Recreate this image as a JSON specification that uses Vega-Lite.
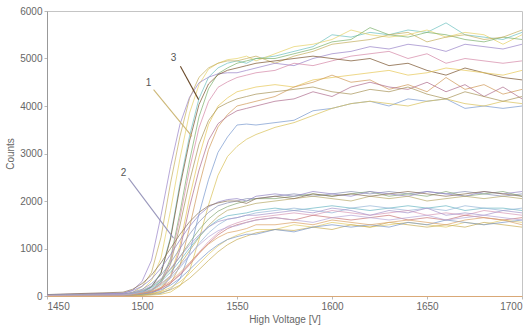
{
"$schema":"https://vega.github.io/schema/vega-lite/v6.json",
"width":475,"height":285,
"autosize":{"type":"none"},
"padding":{"left":47,"top":11,"right":9,"bottom":34},
"background":"white",
"config":{"font":"Liberation Sans","view":{"stroke":"#c4c4c4","strokeWidth":1},
"axis":{"labelFont":"Liberation Sans","titleFont":"Liberation Sans","labelFontSize":10,"labelColor":"#666","titleFontSize":10,"titleFontWeight":"normal","titleColor":"#666","grid":false,"tickColor":"#bbb","tickSize":3}},
"datasets":{
"curves":[
{"s":"U1","x":1450,"y":15},{"s":"U1","x":1490,"y":25},{"s":"U1","x":1495,"y":40},{"s":"U1","x":1500,"y":74},{"s":"U1","x":1505,"y":198},{"s":"U1","x":1510,"y":495},{"s":"U1","x":1515,"y":1238},{"s":"U1","x":1520,"y":2376},{"s":"U1","x":1525,"y":3366},{"s":"U1","x":1530,"y":4158},{"s":"U1","x":1535,"y":4604},{"s":"U1","x":1540,"y":4802},{"s":"U1","x":1545,"y":4901},{"s":"U1","x":1550,"y":4950},{"s":"U1","x":1555,"y":4900},{"s":"U1","x":1560,"y":5000},{"s":"U1","x":1570,"y":5050},{"s":"U1","x":1580,"y":5150},{"s":"U1","x":1590,"y":5250},{"s":"U1","x":1600,"y":5500},{"s":"U1","x":1610,"y":5450},{"s":"U1","x":1620,"y":5550},{"s":"U1","x":1630,"y":5500},{"s":"U1","x":1640,"y":5600},{"s":"U1","x":1650,"y":5550},{"s":"U1","x":1660,"y":5750},{"s":"U1","x":1670,"y":5500},{"s":"U1","x":1680,"y":5450},{"s":"U1","x":1690,"y":5400},{"s":"U1","x":1700,"y":5550},
{"s":"U2","x":1450,"y":20},{"s":"U2","x":1490,"y":30},{"s":"U2","x":1495,"y":55},{"s":"U2","x":1500,"y":125},{"s":"U2","x":1505,"y":325},{"s":"U2","x":1510,"y":800},{"s":"U2","x":1515,"y":1800},{"s":"U2","x":1520,"y":2900},{"s":"U2","x":1525,"y":3850},{"s":"U2","x":1530,"y":4450},{"s":"U2","x":1535,"y":4775},{"s":"U2","x":1540,"y":4900},{"s":"U2","x":1545,"y":4975},{"s":"U2","x":1550,"y":5000},{"s":"U2","x":1555,"y":5050},{"s":"U2","x":1560,"y":4950},{"s":"U2","x":1570,"y":5100},{"s":"U2","x":1580,"y":5250},{"s":"U2","x":1590,"y":5300},{"s":"U2","x":1600,"y":5400},{"s":"U2","x":1610,"y":5600},{"s":"U2","x":1620,"y":5500},{"s":"U2","x":1630,"y":5450},{"s":"U2","x":1640,"y":5500},{"s":"U2","x":1650,"y":5600},{"s":"U2","x":1660,"y":5450},{"s":"U2","x":1670,"y":5550},{"s":"U2","x":1680,"y":5500},{"s":"U2","x":1690,"y":5300},{"s":"U2","x":1700,"y":5500},
{"s":"U3","x":1450,"y":14},{"s":"U3","x":1490,"y":20},{"s":"U3","x":1495,"y":29},{"s":"U3","x":1500,"y":54},{"s":"U3","x":1505,"y":123},{"s":"U3","x":1510,"y":319},{"s":"U3","x":1515,"y":784},{"s":"U3","x":1520,"y":1764},{"s":"U3","x":1525,"y":2842},{"s":"U3","x":1530,"y":3773},{"s":"U3","x":1535,"y":4361},{"s":"U3","x":1540,"y":4680},{"s":"U3","x":1545,"y":4802},{"s":"U3","x":1550,"y":4900},{"s":"U3","x":1555,"y":4950},{"s":"U3","x":1560,"y":5000},{"s":"U3","x":1570,"y":5000},{"s":"U3","x":1580,"y":5100},{"s":"U3","x":1590,"y":5200},{"s":"U3","x":1600,"y":5350},{"s":"U3","x":1610,"y":5400},{"s":"U3","x":1620,"y":5650},{"s":"U3","x":1630,"y":5500},{"s":"U3","x":1640,"y":5450},{"s":"U3","x":1650,"y":5550},{"s":"U3","x":1660,"y":5500},{"s":"U3","x":1670,"y":5400},{"s":"U3","x":1680,"y":5350},{"s":"U3","x":1690,"y":5450},{"s":"U3","x":1700,"y":5400},
{"s":"U4","x":1450,"y":22},{"s":"U4","x":1490,"y":40},{"s":"U4","x":1495,"y":74},{"s":"U4","x":1500,"y":198},{"s":"U4","x":1505,"y":495},{"s":"U4","x":1510,"y":1238},{"s":"U4","x":1515,"y":2376},{"s":"U4","x":1520,"y":3366},{"s":"U4","x":1525,"y":4158},{"s":"U4","x":1530,"y":4604},{"s":"U4","x":1535,"y":4802},{"s":"U4","x":1540,"y":4901},{"s":"U4","x":1545,"y":4950},{"s":"U4","x":1550,"y":4950},{"s":"U4","x":1555,"y":5000},{"s":"U4","x":1560,"y":5050},{"s":"U4","x":1570,"y":4900},{"s":"U4","x":1580,"y":5050},{"s":"U4","x":1590,"y":5150},{"s":"U4","x":1600,"y":5300},{"s":"U4","x":1610,"y":5350},{"s":"U4","x":1620,"y":5400},{"s":"U4","x":1630,"y":5500},{"s":"U4","x":1640,"y":5550},{"s":"U4","x":1650,"y":5350},{"s":"U4","x":1660,"y":5450},{"s":"U4","x":1670,"y":5500},{"s":"U4","x":1680,"y":5400},{"s":"U4","x":1690,"y":5450},{"s":"U4","x":1700,"y":5600},
{"s":"U5","x":1450,"y":30},{"s":"U5","x":1490,"y":52},{"s":"U5","x":1495,"y":118},{"s":"U5","x":1500,"y":306},{"s":"U5","x":1505,"y":752},{"s":"U5","x":1510,"y":1692},{"s":"U5","x":1515,"y":2726},{"s":"U5","x":1520,"y":3619},{"s":"U5","x":1525,"y":4183},{"s":"U5","x":1530,"y":4489},{"s":"U5","x":1535,"y":4606},{"s":"U5","x":1540,"y":4677},{"s":"U5","x":1545,"y":4700},{"s":"U5","x":1550,"y":4700},{"s":"U5","x":1555,"y":4750},{"s":"U5","x":1560,"y":4800},{"s":"U5","x":1570,"y":4900},{"s":"U5","x":1580,"y":4850},{"s":"U5","x":1590,"y":5000},{"s":"U5","x":1600,"y":5100},{"s":"U5","x":1610,"y":5150},{"s":"U5","x":1620,"y":5250},{"s":"U5","x":1630,"y":5200},{"s":"U5","x":1640,"y":5300},{"s":"U5","x":1650,"y":5250},{"s":"U5","x":1660,"y":5150},{"s":"U5","x":1670,"y":5300},{"s":"U5","x":1680,"y":5250},{"s":"U5","x":1690,"y":5200},{"s":"U5","x":1700,"y":5300},
{"s":"U6","x":1450,"y":12},{"s":"U6","x":1490,"y":18},{"s":"U6","x":1495,"y":28},{"s":"U6","x":1500,"y":51},{"s":"U6","x":1505,"y":115},{"s":"U6","x":1510,"y":299},{"s":"U6","x":1515,"y":736},{"s":"U6","x":1520,"y":1656},{"s":"U6","x":1525,"y":2668},{"s":"U6","x":1530,"y":3542},{"s":"U6","x":1535,"y":4094},{"s":"U6","x":1540,"y":4393},{"s":"U6","x":1545,"y":4508},{"s":"U6","x":1550,"y":4600},{"s":"U6","x":1555,"y":4650},{"s":"U6","x":1560,"y":4700},{"s":"U6","x":1570,"y":4750},{"s":"U6","x":1580,"y":4900},{"s":"U6","x":1590,"y":4850},{"s":"U6","x":1600,"y":4950},{"s":"U6","x":1610,"y":5050},{"s":"U6","x":1620,"y":5100},{"s":"U6","x":1630,"y":5150},{"s":"U6","x":1640,"y":5000},{"s":"U6","x":1650,"y":5100},{"s":"U6","x":1660,"y":4900},{"s":"U6","x":1670,"y":5000},{"s":"U6","x":1680,"y":4950},{"s":"U6","x":1690,"y":4900},{"s":"U6","x":1700,"y":4950},
{"s":"U7","x":1450,"y":16},{"s":"U7","x":1490,"y":24},{"s":"U7","x":1495,"y":38},{"s":"U7","x":1500,"y":72},{"s":"U7","x":1505,"y":192},{"s":"U7","x":1510,"y":480},{"s":"U7","x":1515,"y":1200},{"s":"U7","x":1520,"y":2304},{"s":"U7","x":1525,"y":3264},{"s":"U7","x":1530,"y":4032},{"s":"U7","x":1535,"y":4464},{"s":"U7","x":1540,"y":4656},{"s":"U7","x":1545,"y":4752},{"s":"U7","x":1550,"y":4800},{"s":"U7","x":1555,"y":4850},{"s":"U7","x":1560,"y":4900},{"s":"U7","x":1570,"y":4950},{"s":"U7","x":1580,"y":5000},{"s":"U7","x":1590,"y":5050},{"s":"U7","x":1600,"y":5000},{"s":"U7","x":1610,"y":4950},{"s":"U7","x":1620,"y":5000},{"s":"U7","x":1630,"y":4850},{"s":"U7","x":1640,"y":4900},{"s":"U7","x":1650,"y":4750},{"s":"U7","x":1660,"y":4650},{"s":"U7","x":1670,"y":4800},{"s":"U7","x":1680,"y":4700},{"s":"U7","x":1690,"y":4600},{"s":"U7","x":1700,"y":4550},
{"s":"U8","x":1450,"y":12},{"s":"U8","x":1490,"y":17},{"s":"U8","x":1495,"y":22},{"s":"U8","x":1500,"y":34},{"s":"U8","x":1505,"y":65},{"s":"U8","x":1510,"y":172},{"s":"U8","x":1515,"y":430},{"s":"U8","x":1520,"y":1075},{"s":"U8","x":1525,"y":2064},{"s":"U8","x":1530,"y":2924},{"s":"U8","x":1535,"y":3612},{"s":"U8","x":1540,"y":3999},{"s":"U8","x":1545,"y":4171},{"s":"U8","x":1550,"y":4300},{"s":"U8","x":1555,"y":4350},{"s":"U8","x":1560,"y":4400},{"s":"U8","x":1570,"y":4450},{"s":"U8","x":1580,"y":4400},{"s":"U8","x":1590,"y":4550},{"s":"U8","x":1600,"y":4600},{"s":"U8","x":1610,"y":4650},{"s":"U8","x":1620,"y":4700},{"s":"U8","x":1630,"y":4750},{"s":"U8","x":1640,"y":4650},{"s":"U8","x":1650,"y":4700},{"s":"U8","x":1660,"y":4800},{"s":"U8","x":1670,"y":4750},{"s":"U8","x":1680,"y":4700},{"s":"U8","x":1690,"y":4650},{"s":"U8","x":1700,"y":4750},
{"s":"U9","x":1450,"y":9},{"s":"U9","x":1490,"y":12},{"s":"U9","x":1495,"y":16},{"s":"U9","x":1500,"y":24},{"s":"U9","x":1505,"y":44},{"s":"U9","x":1510,"y":100},{"s":"U9","x":1515,"y":260},{"s":"U9","x":1520,"y":640},{"s":"U9","x":1525,"y":1440},{"s":"U9","x":1530,"y":2320},{"s":"U9","x":1535,"y":3080},{"s":"U9","x":1540,"y":3560},{"s":"U9","x":1545,"y":3820},{"s":"U9","x":1550,"y":4000},{"s":"U9","x":1555,"y":4050},{"s":"U9","x":1560,"y":4100},{"s":"U9","x":1570,"y":4200},{"s":"U9","x":1580,"y":4400},{"s":"U9","x":1590,"y":4500},{"s":"U9","x":1600,"y":4650},{"s":"U9","x":1610,"y":4500},{"s":"U9","x":1620,"y":4550},{"s":"U9","x":1630,"y":4350},{"s":"U9","x":1640,"y":4450},{"s":"U9","x":1650,"y":4300},{"s":"U9","x":1660,"y":4600},{"s":"U9","x":1670,"y":4350},{"s":"U9","x":1680,"y":4450},{"s":"U9","x":1690,"y":4250},{"s":"U9","x":1700,"y":4350},
{"s":"U10","x":1450,"y":10},{"s":"U10","x":1490,"y":16},{"s":"U10","x":1495,"y":20},{"s":"U10","x":1500,"y":31},{"s":"U10","x":1505,"y":59},{"s":"U10","x":1510,"y":156},{"s":"U10","x":1515,"y":390},{"s":"U10","x":1520,"y":975},{"s":"U10","x":1525,"y":1872},{"s":"U10","x":1530,"y":2652},{"s":"U10","x":1535,"y":3276},{"s":"U10","x":1540,"y":3627},{"s":"U10","x":1545,"y":3783},{"s":"U10","x":1550,"y":3900},{"s":"U10","x":1555,"y":3950},{"s":"U10","x":1560,"y":4000},{"s":"U10","x":1570,"y":4100},{"s":"U10","x":1580,"y":4150},{"s":"U10","x":1590,"y":4300},{"s":"U10","x":1600,"y":4200},{"s":"U10","x":1610,"y":4400},{"s":"U10","x":1620,"y":4500},{"s":"U10","x":1630,"y":4400},{"s":"U10","x":1640,"y":4350},{"s":"U10","x":1650,"y":4500},{"s":"U10","x":1660,"y":4300},{"s":"U10","x":1670,"y":4450},{"s":"U10","x":1680,"y":4200},{"s":"U10","x":1690,"y":4400},{"s":"U10","x":1700,"y":4150},
{"s":"U11","x":1450,"y":8},{"s":"U11","x":1490,"y":11},{"s":"U11","x":1495,"y":14},{"s":"U11","x":1500,"y":18},{"s":"U11","x":1505,"y":29},{"s":"U11","x":1510,"y":54},{"s":"U11","x":1515,"y":144},{"s":"U11","x":1520,"y":360},{"s":"U11","x":1525,"y":900},{"s":"U11","x":1530,"y":1728},{"s":"U11","x":1535,"y":2448},{"s":"U11","x":1540,"y":3024},{"s":"U11","x":1545,"y":3348},{"s":"U11","x":1550,"y":3600},{"s":"U11","x":1555,"y":3620},{"s":"U11","x":1560,"y":3600},{"s":"U11","x":1570,"y":3650},{"s":"U11","x":1580,"y":3700},{"s":"U11","x":1590,"y":3900},{"s":"U11","x":1600,"y":3950},{"s":"U11","x":1610,"y":4050},{"s":"U11","x":1620,"y":4100},{"s":"U11","x":1630,"y":4000},{"s":"U11","x":1640,"y":4150},{"s":"U11","x":1650,"y":4100},{"s":"U11","x":1660,"y":4150},{"s":"U11","x":1670,"y":3950},{"s":"U11","x":1680,"y":4000},{"s":"U11","x":1690,"y":3950},{"s":"U11","x":1700,"y":4000},
{"s":"U12","x":1450,"y":8},{"s":"U12","x":1490,"y":10},{"s":"U12","x":1495,"y":10},{"s":"U12","x":1500,"y":13},{"s":"U12","x":1505,"y":20},{"s":"U12","x":1510,"y":36},{"s":"U12","x":1515,"y":83},{"s":"U12","x":1520,"y":215},{"s":"U12","x":1525,"y":528},{"s":"U12","x":1530,"y":1188},{"s":"U12","x":1535,"y":1914},{"s":"U12","x":1540,"y":2541},{"s":"U12","x":1545,"y":2937},{"s":"U12","x":1550,"y":3150},{"s":"U12","x":1555,"y":3300},{"s":"U12","x":1560,"y":3400},{"s":"U12","x":1570,"y":3550},{"s":"U12","x":1580,"y":3650},{"s":"U12","x":1590,"y":3800},{"s":"U12","x":1600,"y":3950},{"s":"U12","x":1610,"y":4050},{"s":"U12","x":1620,"y":4100},{"s":"U12","x":1630,"y":4050},{"s":"U12","x":1640,"y":4000},{"s":"U12","x":1650,"y":4100},{"s":"U12","x":1660,"y":4150},{"s":"U12","x":1670,"y":4050},{"s":"U12","x":1680,"y":4000},{"s":"U12","x":1690,"y":4100},{"s":"U12","x":1700,"y":4050},
{"s":"U13","x":1450,"y":11},{"s":"U13","x":1490,"y":17},{"s":"U13","x":1495,"y":25},{"s":"U13","x":1500,"y":46},{"s":"U13","x":1505,"y":104},{"s":"U13","x":1510,"y":270},{"s":"U13","x":1515,"y":664},{"s":"U13","x":1520,"y":1494},{"s":"U13","x":1525,"y":2407},{"s":"U13","x":1530,"y":3196},{"s":"U13","x":1535,"y":3694},{"s":"U13","x":1540,"y":3963},{"s":"U13","x":1545,"y":4067},{"s":"U13","x":1550,"y":4150},{"s":"U13","x":1555,"y":4200},{"s":"U13","x":1560,"y":4250},{"s":"U13","x":1570,"y":4300},{"s":"U13","x":1580,"y":4350},{"s":"U13","x":1590,"y":4400},{"s":"U13","x":1600,"y":4300},{"s":"U13","x":1610,"y":4250},{"s":"U13","x":1620,"y":4350},{"s":"U13","x":1630,"y":4300},{"s":"U13","x":1640,"y":4400},{"s":"U13","x":1650,"y":4250},{"s":"U13","x":1660,"y":4150},{"s":"U13","x":1670,"y":4300},{"s":"U13","x":1680,"y":4200},{"s":"U13","x":1690,"y":4100},{"s":"U13","x":1700,"y":4200},
{"s":"L1","x":1450,"y":20},{"s":"L1","x":1490,"y":40},{"s":"L1","x":1495,"y":80},{"s":"L1","x":1500,"y":140},{"s":"L1","x":1505,"y":260},{"s":"L1","x":1510,"y":440},{"s":"L1","x":1515,"y":700},{"s":"L1","x":1520,"y":1000},{"s":"L1","x":1525,"y":1300},{"s":"L1","x":1530,"y":1560},{"s":"L1","x":1535,"y":1760},{"s":"L1","x":1540,"y":1900},{"s":"L1","x":1545,"y":1960},{"s":"L1","x":1550,"y":2000},{"s":"L1","x":1555,"y":2050},{"s":"L1","x":1560,"y":2050},{"s":"L1","x":1570,"y":2100},{"s":"L1","x":1580,"y":2150},{"s":"L1","x":1590,"y":2100},{"s":"L1","x":1600,"y":2150},{"s":"L1","x":1610,"y":2200},{"s":"L1","x":1620,"y":2150},{"s":"L1","x":1630,"y":2200},{"s":"L1","x":1640,"y":2150},{"s":"L1","x":1650,"y":2200},{"s":"L1","x":1660,"y":2150},{"s":"L1","x":1670,"y":2200},{"s":"L1","x":1680,"y":2150},{"s":"L1","x":1690,"y":2100},{"s":"L1","x":1700,"y":2150},
{"s":"L2","x":1450,"y":18},{"s":"L2","x":1490,"y":29},{"s":"L2","x":1495,"y":59},{"s":"L2","x":1500,"y":107},{"s":"L2","x":1505,"y":195},{"s":"L2","x":1510,"y":341},{"s":"L2","x":1515,"y":556},{"s":"L2","x":1520,"y":829},{"s":"L2","x":1525,"y":1121},{"s":"L2","x":1530,"y":1394},{"s":"L2","x":1535,"y":1619},{"s":"L2","x":1540,"y":1784},{"s":"L2","x":1545,"y":1882},{"s":"L2","x":1550,"y":1950},{"s":"L2","x":1555,"y":2000},{"s":"L2","x":1560,"y":2050},{"s":"L2","x":1570,"y":2050},{"s":"L2","x":1580,"y":2100},{"s":"L2","x":1590,"y":2150},{"s":"L2","x":1600,"y":2100},{"s":"L2","x":1610,"y":2150},{"s":"L2","x":1620,"y":2200},{"s":"L2","x":1630,"y":2100},{"s":"L2","x":1640,"y":2150},{"s":"L2","x":1650,"y":2100},{"s":"L2","x":1660,"y":2200},{"s":"L2","x":1670,"y":2100},{"s":"L2","x":1680,"y":2150},{"s":"L2","x":1690,"y":2200},{"s":"L2","x":1700,"y":2100},
{"s":"L3","x":1450,"y":25},{"s":"L3","x":1490,"y":62},{"s":"L3","x":1495,"y":113},{"s":"L3","x":1500,"y":205},{"s":"L3","x":1505,"y":359},{"s":"L3","x":1510,"y":584},{"s":"L3","x":1515,"y":871},{"s":"L3","x":1520,"y":1179},{"s":"L3","x":1525,"y":1466},{"s":"L3","x":1530,"y":1702},{"s":"L3","x":1535,"y":1876},{"s":"L3","x":1540,"y":1978},{"s":"L3","x":1545,"y":2030},{"s":"L3","x":1550,"y":2050},{"s":"L3","x":1555,"y":2000},{"s":"L3","x":1560,"y":2100},{"s":"L3","x":1570,"y":2150},{"s":"L3","x":1580,"y":2100},{"s":"L3","x":1590,"y":2200},{"s":"L3","x":1600,"y":2150},{"s":"L3","x":1610,"y":2100},{"s":"L3","x":1620,"y":2200},{"s":"L3","x":1630,"y":2150},{"s":"L3","x":1640,"y":2100},{"s":"L3","x":1650,"y":2200},{"s":"L3","x":1660,"y":2150},{"s":"L3","x":1670,"y":2100},{"s":"L3","x":1680,"y":2200},{"s":"L3","x":1690,"y":2150},{"s":"L3","x":1700,"y":2200},
{"s":"L4","x":1450,"y":14},{"s":"L4","x":1490,"y":19},{"s":"L4","x":1495,"y":38},{"s":"L4","x":1500,"y":76},{"s":"L4","x":1505,"y":133},{"s":"L4","x":1510,"y":247},{"s":"L4","x":1515,"y":418},{"s":"L4","x":1520,"y":665},{"s":"L4","x":1525,"y":950},{"s":"L4","x":1530,"y":1235},{"s":"L4","x":1535,"y":1482},{"s":"L4","x":1540,"y":1672},{"s":"L4","x":1545,"y":1805},{"s":"L4","x":1550,"y":1850},{"s":"L4","x":1555,"y":1900},{"s":"L4","x":1560,"y":1950},{"s":"L4","x":1570,"y":2000},{"s":"L4","x":1580,"y":2050},{"s":"L4","x":1590,"y":2100},{"s":"L4","x":1600,"y":2050},{"s":"L4","x":1610,"y":2000},{"s":"L4","x":1620,"y":2100},{"s":"L4","x":1630,"y":2050},{"s":"L4","x":1640,"y":2100},{"s":"L4","x":1650,"y":2000},{"s":"L4","x":1660,"y":2050},{"s":"L4","x":1670,"y":2100},{"s":"L4","x":1680,"y":2050},{"s":"L4","x":1690,"y":2100},{"s":"L4","x":1700,"y":2050},
{"s":"L5","x":1450,"y":30},{"s":"L5","x":1490,"y":80},{"s":"L5","x":1495,"y":140},{"s":"L5","x":1500,"y":260},{"s":"L5","x":1505,"y":440},{"s":"L5","x":1510,"y":700},{"s":"L5","x":1515,"y":1000},{"s":"L5","x":1520,"y":1300},{"s":"L5","x":1525,"y":1560},{"s":"L5","x":1530,"y":1760},{"s":"L5","x":1535,"y":1900},{"s":"L5","x":1540,"y":1960},{"s":"L5","x":1545,"y":2000},{"s":"L5","x":1550,"y":2000},{"s":"L5","x":1555,"y":1950},{"s":"L5","x":1560,"y":2050},{"s":"L5","x":1570,"y":2100},{"s":"L5","x":1580,"y":2050},{"s":"L5","x":1590,"y":2150},{"s":"L5","x":1600,"y":2100},{"s":"L5","x":1610,"y":2150},{"s":"L5","x":1620,"y":2100},{"s":"L5","x":1630,"y":2150},{"s":"L5","x":1640,"y":2200},{"s":"L5","x":1650,"y":2150},{"s":"L5","x":1660,"y":2100},{"s":"L5","x":1670,"y":2150},{"s":"L5","x":1680,"y":2200},{"s":"L5","x":1690,"y":2150},{"s":"L5","x":1700,"y":2100},
{"s":"L6","x":1450,"y":16},{"s":"L6","x":1490,"y":26},{"s":"L6","x":1495,"y":53},{"s":"L6","x":1500,"y":96},{"s":"L6","x":1505,"y":175},{"s":"L6","x":1510,"y":306},{"s":"L6","x":1515,"y":499},{"s":"L6","x":1520,"y":744},{"s":"L6","x":1525,"y":1006},{"s":"L6","x":1530,"y":1251},{"s":"L6","x":1535,"y":1453},{"s":"L6","x":1540,"y":1601},{"s":"L6","x":1545,"y":1689},{"s":"L6","x":1550,"y":1720},{"s":"L6","x":1555,"y":1750},{"s":"L6","x":1560,"y":1800},{"s":"L6","x":1570,"y":1850},{"s":"L6","x":1580,"y":1800},{"s":"L6","x":1590,"y":1850},{"s":"L6","x":1600,"y":1900},{"s":"L6","x":1610,"y":1850},{"s":"L6","x":1620,"y":1800},{"s":"L6","x":1630,"y":1850},{"s":"L6","x":1640,"y":1900},{"s":"L6","x":1650,"y":1850},{"s":"L6","x":1660,"y":1900},{"s":"L6","x":1670,"y":1800},{"s":"L6","x":1680,"y":1850},{"s":"L6","x":1690,"y":1850},{"s":"L6","x":1700,"y":1800},
{"s":"L7","x":1450,"y":12},{"s":"L7","x":1490,"y":17},{"s":"L7","x":1495,"y":34},{"s":"L7","x":1500,"y":68},{"s":"L7","x":1505,"y":119},{"s":"L7","x":1510,"y":221},{"s":"L7","x":1515,"y":374},{"s":"L7","x":1520,"y":595},{"s":"L7","x":1525,"y":850},{"s":"L7","x":1530,"y":1105},{"s":"L7","x":1535,"y":1326},{"s":"L7","x":1540,"y":1496},{"s":"L7","x":1545,"y":1615},{"s":"L7","x":1550,"y":1650},{"s":"L7","x":1555,"y":1700},{"s":"L7","x":1560,"y":1750},{"s":"L7","x":1570,"y":1800},{"s":"L7","x":1580,"y":1850},{"s":"L7","x":1590,"y":1800},{"s":"L7","x":1600,"y":1750},{"s":"L7","x":1610,"y":1850},{"s":"L7","x":1620,"y":1900},{"s":"L7","x":1630,"y":1850},{"s":"L7","x":1640,"y":1800},{"s":"L7","x":1650,"y":1850},{"s":"L7","x":1660,"y":1800},{"s":"L7","x":1670,"y":1900},{"s":"L7","x":1680,"y":1850},{"s":"L7","x":1690,"y":1800},{"s":"L7","x":1700,"y":1850},
{"s":"L8","x":1450,"y":10},{"s":"L8","x":1490,"y":13},{"s":"L8","x":1495,"y":24},{"s":"L8","x":1500,"y":48},{"s":"L8","x":1505,"y":88},{"s":"L8","x":1510,"y":160},{"s":"L8","x":1515,"y":280},{"s":"L8","x":1520,"y":456},{"s":"L8","x":1525,"y":680},{"s":"L8","x":1530,"y":920},{"s":"L8","x":1535,"y":1144},{"s":"L8","x":1540,"y":1328},{"s":"L8","x":1545,"y":1464},{"s":"L8","x":1550,"y":1540},{"s":"L8","x":1555,"y":1600},{"s":"L8","x":1560,"y":1650},{"s":"L8","x":1570,"y":1700},{"s":"L8","x":1580,"y":1750},{"s":"L8","x":1590,"y":1700},{"s":"L8","x":1600,"y":1800},{"s":"L8","x":1610,"y":1750},{"s":"L8","x":1620,"y":1700},{"s":"L8","x":1630,"y":1750},{"s":"L8","x":1640,"y":1800},{"s":"L8","x":1650,"y":1700},{"s":"L8","x":1660,"y":1750},{"s":"L8","x":1670,"y":1700},{"s":"L8","x":1680,"y":1800},{"s":"L8","x":1690,"y":1750},{"s":"L8","x":1700,"y":1700},
{"s":"L9","x":1450,"y":18},{"s":"L9","x":1490,"y":33},{"s":"L9","x":1495,"y":66},{"s":"L9","x":1500,"y":116},{"s":"L9","x":1505,"y":215},{"s":"L9","x":1510,"y":363},{"s":"L9","x":1515,"y":578},{"s":"L9","x":1520,"y":825},{"s":"L9","x":1525,"y":1073},{"s":"L9","x":1530,"y":1287},{"s":"L9","x":1535,"y":1452},{"s":"L9","x":1540,"y":1568},{"s":"L9","x":1545,"y":1617},{"s":"L9","x":1550,"y":1650},{"s":"L9","x":1555,"y":1700},{"s":"L9","x":1560,"y":1700},{"s":"L9","x":1570,"y":1750},{"s":"L9","x":1580,"y":1800},{"s":"L9","x":1590,"y":1750},{"s":"L9","x":1600,"y":1850},{"s":"L9","x":1610,"y":1800},{"s":"L9","x":1620,"y":1700},{"s":"L9","x":1630,"y":1800},{"s":"L9","x":1640,"y":1750},{"s":"L9","x":1650,"y":1850},{"s":"L9","x":1660,"y":1700},{"s":"L9","x":1670,"y":1750},{"s":"L9","x":1680,"y":1700},{"s":"L9","x":1690,"y":1800},{"s":"L9","x":1700,"y":1750},
{"s":"L10","x":1450,"y":9},{"s":"L10","x":1490,"y":12},{"s":"L10","x":1495,"y":23},{"s":"L10","x":1500,"y":47},{"s":"L10","x":1505,"y":85},{"s":"L10","x":1510,"y":155},{"s":"L10","x":1515,"y":271},{"s":"L10","x":1520,"y":442},{"s":"L10","x":1525,"y":659},{"s":"L10","x":1530,"y":891},{"s":"L10","x":1535,"y":1108},{"s":"L10","x":1540,"y":1287},{"s":"L10","x":1545,"y":1418},{"s":"L10","x":1550,"y":1500},{"s":"L10","x":1555,"y":1550},{"s":"L10","x":1560,"y":1600},{"s":"L10","x":1570,"y":1650},{"s":"L10","x":1580,"y":1600},{"s":"L10","x":1590,"y":1700},{"s":"L10","x":1600,"y":1650},{"s":"L10","x":1610,"y":1600},{"s":"L10","x":1620,"y":1650},{"s":"L10","x":1630,"y":1700},{"s":"L10","x":1640,"y":1600},{"s":"L10","x":1650,"y":1650},{"s":"L10","x":1660,"y":1600},{"s":"L10","x":1670,"y":1700},{"s":"L10","x":1680,"y":1650},{"s":"L10","x":1690,"y":1600},{"s":"L10","x":1700,"y":1650},
{"s":"L11","x":1450,"y":6},{"s":"L11","x":1490,"y":8},{"s":"L11","x":1495,"y":14},{"s":"L11","x":1500,"y":27},{"s":"L11","x":1505,"y":54},{"s":"L11","x":1510,"y":95},{"s":"L11","x":1515,"y":176},{"s":"L11","x":1520,"y":297},{"s":"L11","x":1525,"y":473},{"s":"L11","x":1530,"y":675},{"s":"L11","x":1535,"y":878},{"s":"L11","x":1540,"y":1053},{"s":"L11","x":1545,"y":1188},{"s":"L11","x":1550,"y":1280},{"s":"L11","x":1555,"y":1350},{"s":"L11","x":1560,"y":1400},{"s":"L11","x":1570,"y":1400},{"s":"L11","x":1580,"y":1500},{"s":"L11","x":1590,"y":1450},{"s":"L11","x":1600,"y":1550},{"s":"L11","x":1610,"y":1500},{"s":"L11","x":1620,"y":1450},{"s":"L11","x":1630,"y":1500},{"s":"L11","x":1640,"y":1550},{"s":"L11","x":1650,"y":1500},{"s":"L11","x":1660,"y":1450},{"s":"L11","x":1670,"y":1550},{"s":"L11","x":1680,"y":1500},{"s":"L11","x":1690,"y":1600},{"s":"L11","x":1700,"y":1550},
{"s":"L12","x":1450,"y":5},{"s":"L12","x":1490,"y":7},{"s":"L12","x":1495,"y":10},{"s":"L12","x":1500,"y":20},{"s":"L12","x":1505,"y":39},{"s":"L12","x":1510,"y":72},{"s":"L12","x":1515,"y":130},{"s":"L12","x":1520,"y":228},{"s":"L12","x":1525,"y":371},{"s":"L12","x":1530,"y":553},{"s":"L12","x":1535,"y":748},{"s":"L12","x":1540,"y":930},{"s":"L12","x":1545,"y":1079},{"s":"L12","x":1550,"y":1190},{"s":"L12","x":1555,"y":1260},{"s":"L12","x":1560,"y":1330},{"s":"L12","x":1570,"y":1400},{"s":"L12","x":1580,"y":1380},{"s":"L12","x":1590,"y":1450},{"s":"L12","x":1600,"y":1400},{"s":"L12","x":1610,"y":1500},{"s":"L12","x":1620,"y":1450},{"s":"L12","x":1630,"y":1550},{"s":"L12","x":1640,"y":1500},{"s":"L12","x":1650,"y":1450},{"s":"L12","x":1660,"y":1500},{"s":"L12","x":1670,"y":1450},{"s":"L12","x":1680,"y":1550},{"s":"L12","x":1690,"y":1500},{"s":"L12","x":1700,"y":1450},
{"s":"L13","x":1450,"y":7},{"s":"L13","x":1490,"y":10},{"s":"L13","x":1495,"y":20},{"s":"L13","x":1500,"y":39},{"s":"L13","x":1505,"y":72},{"s":"L13","x":1510,"y":130},{"s":"L13","x":1515,"y":228},{"s":"L13","x":1520,"y":371},{"s":"L13","x":1525,"y":553},{"s":"L13","x":1530,"y":748},{"s":"L13","x":1535,"y":930},{"s":"L13","x":1540,"y":1079},{"s":"L13","x":1545,"y":1190},{"s":"L13","x":1550,"y":1250},{"s":"L13","x":1555,"y":1300},{"s":"L13","x":1560,"y":1300},{"s":"L13","x":1570,"y":1400},{"s":"L13","x":1580,"y":1350},{"s":"L13","x":1590,"y":1450},{"s":"L13","x":1600,"y":1500},{"s":"L13","x":1610,"y":1450},{"s":"L13","x":1620,"y":1500},{"s":"L13","x":1630,"y":1450},{"s":"L13","x":1640,"y":1550},{"s":"L13","x":1650,"y":1500},{"s":"L13","x":1660,"y":1600},{"s":"L13","x":1670,"y":1550},{"s":"L13","x":1680,"y":1500},{"s":"L13","x":1690,"y":1550},{"s":"L13","x":1700,"y":1600},
{"s":"L14","x":1450,"y":10},{"s":"L14","x":1490,"y":14},{"s":"L14","x":1495,"y":28},{"s":"L14","x":1500,"y":56},{"s":"L14","x":1505,"y":98},{"s":"L14","x":1510,"y":182},{"s":"L14","x":1515,"y":308},{"s":"L14","x":1520,"y":490},{"s":"L14","x":1525,"y":700},{"s":"L14","x":1530,"y":910},{"s":"L14","x":1535,"y":1092},{"s":"L14","x":1540,"y":1232},{"s":"L14","x":1545,"y":1330},{"s":"L14","x":1550,"y":1370},{"s":"L14","x":1555,"y":1420},{"s":"L14","x":1560,"y":1500},{"s":"L14","x":1570,"y":1500},{"s":"L14","x":1580,"y":1550},{"s":"L14","x":1590,"y":1500},{"s":"L14","x":1600,"y":1600},{"s":"L14","x":1610,"y":1550},{"s":"L14","x":1620,"y":1500},{"s":"L14","x":1630,"y":1550},{"s":"L14","x":1640,"y":1600},{"s":"L14","x":1650,"y":1550},{"s":"L14","x":1660,"y":1500},{"s":"L14","x":1670,"y":1600},{"s":"L14","x":1680,"y":1650},{"s":"L14","x":1690,"y":1600},{"s":"L14","x":1700,"y":1500},
{"s":"L15","x":1450,"y":12},{"s":"L15","x":1490,"y":23},{"s":"L15","x":1495,"y":45},{"s":"L15","x":1500,"y":83},{"s":"L15","x":1505,"y":150},{"s":"L15","x":1510,"y":263},{"s":"L15","x":1515,"y":428},{"s":"L15","x":1520,"y":638},{"s":"L15","x":1525,"y":863},{"s":"L15","x":1530,"y":1073},{"s":"L15","x":1535,"y":1245},{"s":"L15","x":1540,"y":1373},{"s":"L15","x":1545,"y":1448},{"s":"L15","x":1550,"y":1480},{"s":"L15","x":1555,"y":1550},{"s":"L15","x":1560,"y":1600},{"s":"L15","x":1570,"y":1650},{"s":"L15","x":1580,"y":1600},{"s":"L15","x":1590,"y":1550},{"s":"L15","x":1600,"y":1650},{"s":"L15","x":1610,"y":1700},{"s":"L15","x":1620,"y":1650},{"s":"L15","x":1630,"y":1600},{"s":"L15","x":1640,"y":1650},{"s":"L15","x":1650,"y":1700},{"s":"L15","x":1660,"y":1600},{"s":"L15","x":1670,"y":1650},{"s":"L15","x":1680,"y":1700},{"s":"L15","x":1690,"y":1650},{"s":"L15","x":1700,"y":1600}
],
"notes":[
{"n":"1","x":1506.1,"y":4345,"x2":1526.3,"y2":3360,"tx":1503.5,"ty":4486},
{"n":"2","x":1492.9,"y":2482,"x2":1516.6,"y2":1217,"tx":1490.3,"ty":2600},
{"n":"3","x":1520.2,"y":4836,"x2":1529.8,"y2":4134,"tx":1516.6,"ty":5013}
]},
"layer":[
{"data":{"name":"curves"},
"mark":{"type":"line","strokeWidth":0.9,"opacity":0.8,"clip":true},
"encoding":{
"x":{"field":"x","type":"quantitative","scale":{"domain":[1450,1700],"nice":false,"zero":false},
"axis":{"title":"High Voltage [V]","values":[1450,1500,1550,1600,1650,1700],"format":"d","domainColor":"#d9a877","labelPadding":2,"titlePadding":3}},
"y":{"field":"y","type":"quantitative","scale":{"domain":[0,6000],"nice":false},
"axis":{"title":"Counts","values":[0,500,1000,1500,2000,2500,3000,3500,4000,4500,5000,5500,6000],"labelExpr":"datum.value % 1000 === 0 ? datum.value : ''","domainColor":"#999","labelPadding":2,"titlePadding":4}},
"color":{"field":"s","type":"nominal","legend":null,"scale":{
"domain":["U1","U2","U3","U4","U5","U6","U7","U8","U9","U10","U11","U12","U13","L1","L2","L3","L4","L5","L6","L7","L8","L9","L10","L11","L12","L13","L14","L15"],
"range":["#6fc2c0","#e6d26a","#7fb36f","#c4b060","#9a86c8","#d58aa8","#7a5530","#e8c85a","#d09a5a","#b0708f","#7b9bd0","#d9c25a","#a8955a","#8a92b5","#86a878","#9486c4","#b8aa6a","#8c7258","#6cb8c4","#98b8d8","#d89ab8","#a898cc","#c87878","#e2cc6a","#c8ae58","#7a98c8","#dca468","#b8a8d8"]}}}},
{"data":{"name":"notes"},
"mark":{"type":"rule","strokeWidth":1.1},
"encoding":{"x":{"field":"x","type":"quantitative"},"y":{"field":"y","type":"quantitative"},"x2":{"field":"x2"},"y2":{"field":"y2"},
"color":{"field":"n","type":"nominal","legend":null,"scale":{"domain":["1","2","3"],"range":["#cdb878","#9a98bc","#6a4a2a"]}}}},
{"data":{"name":"notes"},
"mark":{"type":"text","fontSize":10,"fill":"#555","font":"Liberation Sans"},
"encoding":{"x":{"field":"tx","type":"quantitative"},"y":{"field":"ty","type":"quantitative"},"text":{"field":"n"}}}
],
"resolve":{"scale":{"color":"independent"}}
}
